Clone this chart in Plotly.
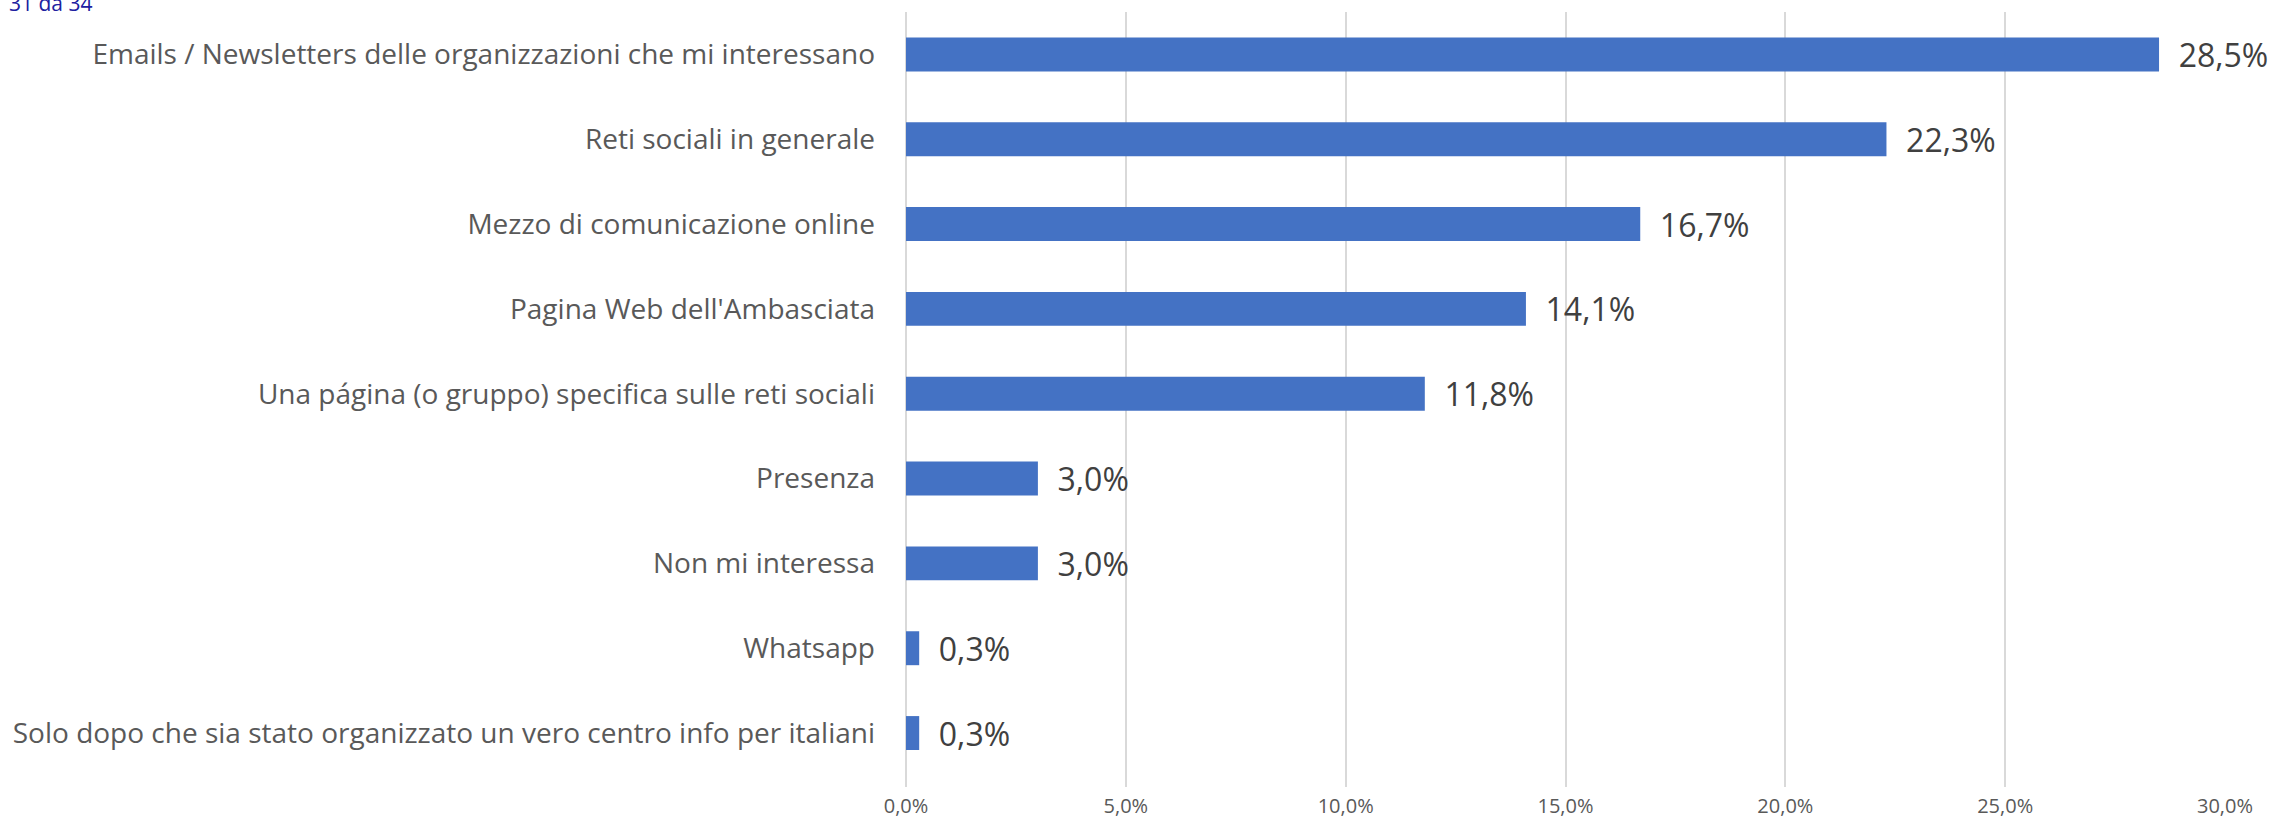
import plotly.graph_objects as go

# categories top to bottom
categories = [
    "Emails / Newsletters delle organizzazioni che mi interessano",
    "Reti sociali in generale",
    "Mezzo di comunicazione online",
    "Pagina Web dell'Ambasciata",
    "Una página (o gruppo) specifica sulle reti sociali",
    "Presenza",
    "Non mi interessa",
    "Whatsapp",
    "Solo dopo che sia stato organizzato un vero centro info per italiani",
]
shares = [0.285, 0.223, 0.167, 0.141, 0.118, 0.030, 0.030, 0.003, 0.003]
tick_values = [0, 0.05, 0.10, 0.15, 0.20, 0.25, 0.30]

font_family = "Open Sans"

fig = go.Figure()

fig.add_trace(go.Bar(
    x=shares, y=categories, orientation='h',
    marker=dict(color='#4472C4', line=dict(width=0)),
    width=0.4,
    texttemplate='\u00a0\u00a0%{x:.1%}', textposition='outside',
    textfont=dict(family=font_family, size=32, color='#404040'),
    constraintext='none', cliponaxis=False,
    hoverinfo='skip',
))

fig.update_layout(
    width=2277, height=819,
    paper_bgcolor='white', plot_bgcolor='white',
    margin=dict(l=906, r=52, t=12, b=32, autoexpand=False),
    separators=',.',
    showlegend=False,
    font=dict(family=font_family, color='#595959'),
)

fig.update_xaxes(
    automargin=False,
    range=[0, 0.30], tickvals=tick_values, tickformat='.1%',
    showgrid=True, gridcolor='#D9D9D9', gridwidth=2,
    zeroline=True, zerolinecolor='#D9D9D9', zerolinewidth=2,
    showline=False, ticks='',
    tickfont=dict(family=font_family, size=20, color='#595959'),
    ticklabelstandoff=5,
)

fig.update_yaxes(
    automargin=False,
    categoryorder='array', categoryarray=categories,
    range=[8.636, -0.5],
    showgrid=False, zeroline=False, showline=False, ticks='',
    tickfont=dict(family=font_family, size=28, color='#595959'),
    ticklabelstandoff=30,
)

fig.add_annotation(
    text='31 da 34', xref='paper', yref='paper', x=0, y=1,
    xanchor='left', yanchor='middle', showarrow=False,
    xshift=-899, yshift=9,
    font=dict(family=font_family, size=21, color='#2020A0'),
)

# page body has a default 8px margin; drop it so the figure sits at the corner
fig.write_html("out.html", config={'displayModeBar': False},
               post_script="document.body.style.margin='0';")
